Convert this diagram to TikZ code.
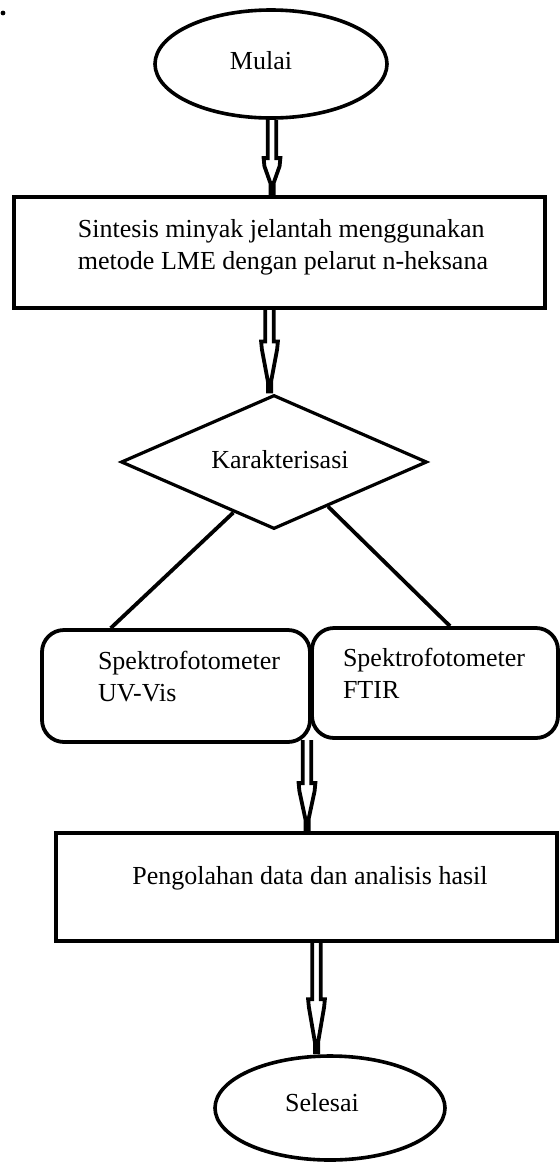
\documentclass[tikz,border=0pt]{standalone}
\usepackage{fontspec}
\setmainfont{Liberation Serif}
\usetikzlibrary{shapes.geometric,calc}
% double-shaft hollow arrow: #1 source (gives x and start y), #2 target (gives end y), #3 head length
\newcommand\dblarr[3]{%
  \draw[arrline] let \p1=(#1), \p2=(#2) in
    (\x1-2.1pt,\y1) -- (\x1-2.1pt,\y2+#3) -- (\x1-4.2pt,\y2+#3) -- (\x1-3.8pt,\y2+#3-4pt)
    -- (\x1-0.8pt,\y2+6pt) -- (\x1-0.8pt,\y2+1pt) -- (\x1+0.8pt,\y2+1pt) -- (\x1+0.8pt,\y2+6pt)
    -- (\x1+3.8pt,\y2+#3-4pt) -- (\x1+4.2pt,\y2+#3) -- (\x1+2.1pt,\y2+#3) -- (\x1+2.1pt,\y1);}
\begin{document}
\begin{tikzpicture}[x=0.5pt,y=-0.5pt,
  every node/.style={font=\fontsize{13pt}{16pt}\selectfont},
  term/.style={draw, ellipse, line width=1.8pt, inner sep=0pt},
  procbox/.style={draw, rectangle, line width=1.9pt, inner sep=0pt},
  decbox/.style={draw, diamond, line width=1.6pt, inner sep=0pt},
  roundbox/.style={draw, rectangle, rounded corners=11pt, line width=1.9pt, inner sep=0pt},
  arrline/.style={line width=1.9pt, line join=miter},
  conn/.style={line width=1.9pt}]
\useasboundingbox (0,0) rectangle (559,1162);
\fill (3,13) circle (1.2pt);

\node[term, minimum width=116pt, minimum height=54pt,
      label={[name=mulaitxt, xshift=-5pt, yshift=1.5pt]center:Mulai}] (mulai) at (271,64) {};

\node[procbox, minimum width=265.5pt, minimum height=55.5pt] (box1) at (279.5,252.5) {};
\node[align=left, inner sep=0pt] (box1txt) at (283,247)
  {Sintesis minyak jelantah menggunakan\\metode LME dengan pelarut n-heksana};

\node[decbox, minimum width=153pt, minimum height=67pt] (kar) at (274,462) {};
\node[inner sep=0pt] (kartxt) at (280,460) {Karakterisasi};

\node[roundbox, minimum width=134pt, minimum height=56pt] (uv) at (176,686) {};
\node[align=left, inner sep=0pt] (uvtxt) at (189,677) {Spektrofotometer\\UV-Vis};

\node[roundbox, minimum width=123pt, minimum height=55pt] (ftir) at (435,683) {};
\node[align=left, inner sep=0pt] (ftirtxt) at (434,673) {Spektrofotometer\\FTIR};

\coordinate (j) at (307,740);

\node[procbox, minimum width=250.5pt, minimum height=54pt] (box3) at (306.5,887) {};
\node[inner sep=0pt] (box3txt) at (310,878) {Pengolahan data dan analisis hasil};

\node[term, minimum width=115pt, minimum height=52pt,
      label={[name=selesaitxt, xshift=-4pt, yshift=2.5pt]center:Selesai}] (selesai) at (330,1108) {};

% connectors
\dblarr{$(mulai.south)+(1,0)$}{box1.north}{18.5pt}
\dblarr{$(box1.south)+(-10,0)$}{kar.north}{26pt}
\draw[conn] ($(kar.west)!0.737!(kar.south)$) -- ($(uv.north west)!0.26!(uv.north east)$);
\draw[conn] ($(kar.south)!0.35!(kar.east)$) -- ($(ftir.north west)!0.56!(ftir.north east)$);
\dblarr{j}{box3.north}{24pt}
\dblarr{$(box3.south)+(10,0)$}{selesai.north}{27.5pt}
\end{tikzpicture}
\end{document}
